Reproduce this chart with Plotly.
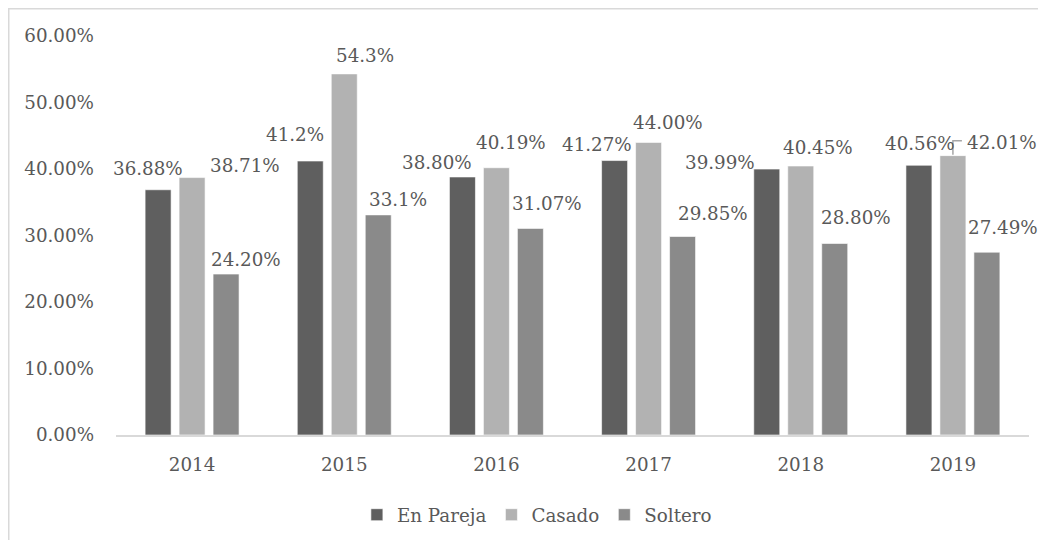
import plotly.graph_objects as go

years = ["2014", "2015", "2016", "2017", "2018", "2019"]
series_names = ["En Pareja", "Casado", "Soltero"]
en_pareja = [0.3688, 0.412, 0.3880, 0.4127, 0.3999, 0.4056]
casado = [0.3871, 0.543, 0.4019, 0.4400, 0.4045, 0.4201]
soltero = [0.2420, 0.331, 0.3107, 0.2985, 0.2880, 0.2749]
en_pareja_text = ["36.88%", "41.2%", "38.80%", "41.27%", "39.99%", "40.56%"]
casado_text = ["38.71%", "54.3%", "40.19%", "44.00%", "40.45%", "42.01%"]
soltero_text = ["24.20%", "33.1%", "31.07%", "29.85%", "28.80%", "27.49%"]
y_ticks = [0, 0.1, 0.2, 0.3, 0.4, 0.5, 0.6]
y_tick_text = ["0.00%", "10.00%", "20.00%", "30.00%", "40.00%", "50.00%", "60.00%"]

colors = ["#5f5f5f", "#b2b2b2", "#8a8a8a"]

# manual label offsets (pixels) as placed in the original chart
label_dx = [
    [-10, -15, -25, -18, -47, 1],
    [53, 21, 15, 19, 17, 49],
    [20, 20, 17, 30, 21, 16],
]
label_dy = [
    [21, 27, 14, 16, 7, 22],
    [12, 18, 25, 20, 19, 13],
    [15, 15, 25, 23, 26, 25],
]

FONT = "DejaVu Serif"
FSIZE = 18.3
TXT = "#595959"
BARGAP = 0.33

values = [en_pareja, casado, soltero]
texts = [en_pareja_text, casado_text, soltero_text]

fig = go.Figure()
for name, vals, col in zip(series_names, values, colors):
    fig.add_trace(go.Bar(
        x=years, y=vals, name=name,
        marker=dict(color=col, line=dict(color="#ffffff", width=0.6)),
        hoverinfo="skip",
    ))

slot = (1 - BARGAP) / 3
annotations = []
for k in range(3):
    for i in range(len(years)):
        annotations.append(dict(
            x=i + (k - 1) * slot, y=values[k][i], xref="x", yref="y",
            text=texts[k][i], showarrow=False,
            xanchor="center", yanchor="middle",
            xshift=label_dx[k][i], yshift=label_dy[k][i],
            font=dict(family=FONT, size=FSIZE, color=TXT),
        ))

W, H = 1030, 532
ML, MR, MT, MB = 108, 9, 28, 105
pw, ph = W - ML - MR, H - MT - MB

shapes = [
    # outer chart border
    dict(type="rect", xref="paper", yref="paper",
         x0=(0.75 - ML) / pw, x1=1.05, y0=-0.35, y1=(H - MB - 0.75) / ph,
         line=dict(color="#d9d9d9", width=1.5), fillcolor="rgba(0,0,0,0)", layer="below"),
    # leader line for 2019 Casado label
    dict(type="path", xref="x", yref="y",
         xsizemode="pixel", ysizemode="pixel",
         xanchor=5, yanchor=casado[5],
         path="M0,1 L0,15 L9,15",
         line=dict(color="#a6a6a6", width=1.5)),
]

fig.update_layout(
    width=W, height=H,
    margin=dict(l=ML, r=MR, t=MT, b=MB, autoexpand=False),
    paper_bgcolor="white", plot_bgcolor="white",
    barmode="group", bargap=BARGAP, bargroupgap=0.235,
    font=dict(family=FONT, size=FSIZE, color=TXT),
    showlegend=True,
    legend=dict(orientation="h", x=0.461, xanchor="center", y=-0.2, yanchor="middle",
                font=dict(family=FONT, size=FSIZE, color=TXT), itemwidth=30,
                traceorder="normal"),
    annotations=annotations,
    shapes=shapes,
)
fig.update_xaxes(type="category", range=[-0.5, len(years) - 0.5],
                 showline=True, linecolor="#d9d9d9", linewidth=1.5,
                 ticks="", showgrid=False, zeroline=False, ticklabelstandoff=12,
                 automargin=False,
                 tickfont=dict(family=FONT, size=FSIZE, color=TXT))
fig.update_yaxes(range=[0, 0.6], tickvals=y_ticks, ticktext=y_tick_text,
                 showgrid=False, zeroline=False, showline=False, ticks="",
                 ticklabelstandoff=21, automargin=False,
                 tickfont=dict(family=FONT, size=FSIZE, color=TXT))

fig.write_html("out.html")
